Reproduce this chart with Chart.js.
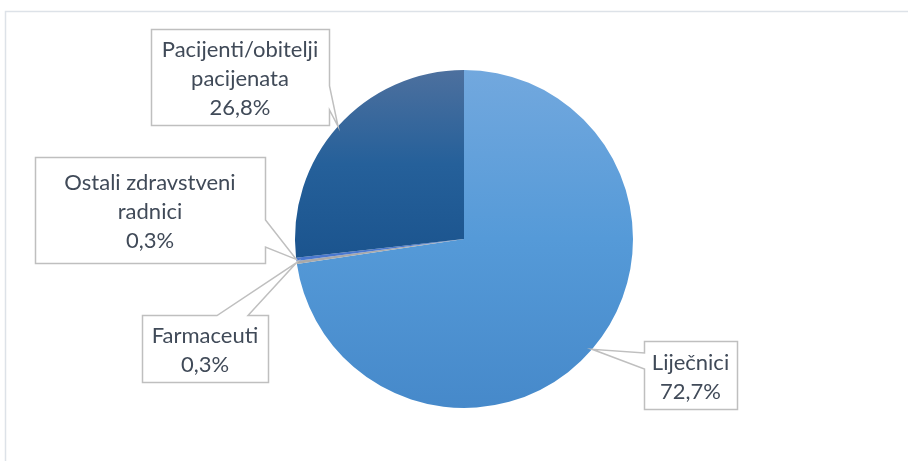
<!DOCTYPE html>
<html>
<head>
<meta charset="utf-8">
<script src="https://cdn.jsdelivr.net/npm/chart.js@4.4.1/dist/chart.umd.min.js"></script>
<style>
html,body{margin:0;padding:0;background:#fff;}
#wrap{position:relative;width:908px;height:461px;}
</style>
</head>
<body>
<div id="wrap"><canvas id="c" width="908" height="461"></canvas></div>
<script>
// ---- data ----
const categories = ['Liječnici', 'Farmaceuti', 'Ostali zdravstveni radnici', 'Pacijenti/obitelji pacijenata'];
const values = [72.7, 0.3, 0.3, 26.8];
const labelLines = [['Liječnici'], ['Farmaceuti'], ['Ostali zdravstveni', 'radnici'], ['Pacijenti/obitelji', 'pacijenata']];

// ---- layout / style (not data) ----
const callouts = [
  {x: 644, y: 341, w: 93,  h: 68,  side: 'left',  a: 353, b: 369},
  {x: 142, y: 315, w: 126, h: 67,  side: 'top',   a: 217, b: 248},
  {x: 35,  y: 157, w: 230, h: 106, side: 'right', a: 220, b: 247},
  {x: 151, y: 29,  w: 178, h: 96,  side: 'right', a: 86,  b: 110}
];
const FONT = '22px Lato';
const LINE_H = 29;
const TEXT_COLOR = '#404a58';

function fmt(v) { return v.toFixed(1).replace('.', ',') + '%'; }

function sliceColor(ctx) {
  const chart = ctx.chart;
  const area = chart.chartArea;
  if (!area) return '#5b9bd5';
  const c = chart.ctx;
  const i = ctx.dataIndex;
  const top = area.top, bottom = area.bottom, mid = (top + bottom) / 2;
  let g;
  if (i === 0) {
    g = c.createLinearGradient(0, top, 0, bottom);
    g.addColorStop(0, '#72a8de');
    g.addColorStop(0.5, '#559ad8');
    g.addColorStop(1, '#4689ca');
    return g;
  } else if (i === 3) {
    g = c.createLinearGradient(0, top, 0, mid + 20);
    g.addColorStop(0, '#4d709e');
    g.addColorStop(0.5, '#25609a');
    g.addColorStop(1, '#1b548e');
    return g;
  } else if (i === 1) {
    return '#a9a9a9';
  }
  return '#4a78cf';
}

const calloutPlugin = {
  id: 'callouts',
  beforeDraw(chart) {
    const c = chart.ctx;
    c.save();
    c.strokeStyle = '#dde2e8';
    c.lineWidth = 1.5;
    c.beginPath();
    c.moveTo(5.5, 461);
    c.lineTo(5.5, 11.5);
    c.lineTo(908, 11.5);
    c.stroke();
    c.restore();
  },
  afterDraw(chart) {
    const c = chart.ctx;
    const meta = chart.getDatasetMeta(0);
    c.save();
    meta.data.forEach((arc, i) => {
      const p = arc.getProps(['x', 'y', 'startAngle', 'endAngle', 'outerRadius'], true);
      const ang = (p.startAngle + p.endAngle) / 2;
      const tx = p.x + Math.cos(ang) * p.outerRadius;
      const ty = p.y + Math.sin(ang) * p.outerRadius;
      const b = callouts[i];
      const L = b.x + 0.5, T = b.y + 0.5, R = b.x + b.w + 0.5, B = b.y + b.h + 0.5;
      c.beginPath();
      c.moveTo(L, T);
      if (b.side === 'top') { c.lineTo(b.a, T); c.lineTo(tx, ty); c.lineTo(b.b, T); }
      c.lineTo(R, T);
      if (b.side === 'right') { c.lineTo(R, b.a); c.lineTo(tx, ty); c.lineTo(R, b.b); }
      c.lineTo(R, B);
      c.lineTo(L, B);
      if (b.side === 'left') { c.lineTo(L, b.b); c.lineTo(tx, ty); c.lineTo(L, b.a); }
      c.closePath();
      c.fillStyle = '#ffffff';
      c.fill();
      c.strokeStyle = '#bfbfbf';
      c.lineWidth = 1.5;
      c.lineJoin = 'miter';
      c.stroke();

      const lines = labelLines[i].concat([fmt(values[i])]);
      c.fillStyle = TEXT_COLOR;
      c.font = FONT;
      c.textAlign = 'center';
      c.textBaseline = 'middle';
      const cx = b.x + b.w / 2;
      const cy = b.y + b.h / 2 + 2;
      const start = cy - (lines.length - 1) * LINE_H / 2;
      lines.forEach((t, k) => c.fillText(t, cx, start + k * LINE_H));
    });
    c.restore();
  }
};

new Chart(document.getElementById('c'), {
  type: 'pie',
  data: {
    labels: categories,
    datasets: [{
      data: values,
      backgroundColor: sliceColor,
      borderWidth: 0
    }]
  },
  options: {
    responsive: false,
    animation: false,
    layout: { padding: { left: 295, right: 275, top: 70, bottom: 53 } },
    plugins: { legend: { display: false }, tooltip: { enabled: false } }
  },
  plugins: [calloutPlugin]
});
</script>
</body>
</html>
